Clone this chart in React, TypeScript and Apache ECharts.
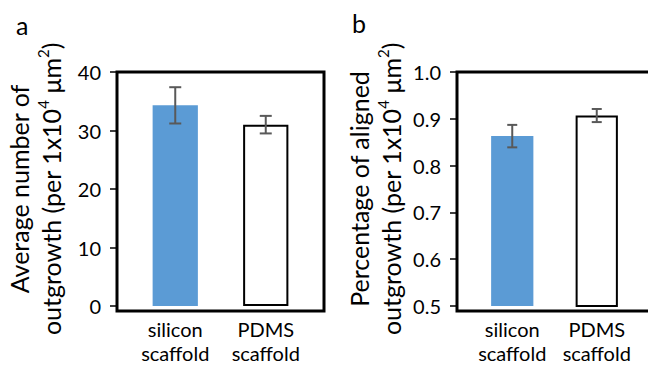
import React, { useEffect, useRef } from "react";
import * as echarts from "echarts";

// ---- data ----
const categories = ["silicon\nscaffold", "PDMS\nscaffold"];
// panel a: average number of outgrowth
const outgrowthMean = [34.3, 31.0];
const outgrowthErr = [3.1, 1.5];
const outgrowthTicks = { min: 0, max: 40, interval: 10 };
// panel b: percentage of aligned outgrowth
const alignedMean = [0.863, 0.907];
const alignedErr = [0.024, 0.014];
const alignedTicks = { min: 0.5, max: 1.0, interval: 0.1 };

const titleA = "{t|Average number of}\n{t|outgrowth (per 1x10}{s|4}{t| μm}{s|2}{t|)}";
const titleB = "{t|Percentage of aligned}\n{t|outgrowth (per 1x10}{s|4}{t| μm}{s|2}{t|)}";

// ---- styles ----
const FONT = "Lato";
const BLUE = "#5B9BD5";
const ERR = "#595959";
const barStyles = [
  { color: BLUE, borderColor: BLUE, borderWidth: 0 },
  { color: "#ffffff", borderColor: "#000000", borderWidth: 2 },
];

const titleRich = {
  t: { fontSize: 25, fontFamily: FONT, lineHeight: 32, color: "#000" },
  s: { fontSize: 15, fontFamily: FONT, lineHeight: 16, verticalAlign: "top", color: "#000" },
};

function errorSeries(means: number[], errs: number[], idx: number, cap: number) {
  return {
    type: "custom",
    xAxisIndex: idx,
    yAxisIndex: idx,
    z: 5,
    data: means.map((m, i) => [i, m - errs[i], m + errs[i]]),
    renderItem: (params: any, api: any) => {
      const x = api.value(0);
      const lo = api.coord([x, api.value(1)]);
      const hi = api.coord([x, api.value(2)]);
      const st = { stroke: ERR, lineWidth: 2 };
      return {
        type: "group",
        children: [
          { type: "line", shape: { x1: lo[0], y1: lo[1], x2: hi[0], y2: hi[1] }, style: st },
          { type: "line", shape: { x1: hi[0] - cap / 2, y1: hi[1], x2: hi[0] + cap / 2, y2: hi[1] }, style: st },
          { type: "line", shape: { x1: lo[0] - cap / 2, y1: lo[1], x2: lo[0] + cap / 2, y2: lo[1] }, style: st },
        ],
      };
    },
  };
}

function yAxisCfg(idx: number, ticks: any, name: string, offset: number, fmt: (v: number) => string) {
  return {
    type: "value",
    gridIndex: idx,
    min: ticks.min,
    max: ticks.max,
    interval: ticks.interval,
    offset,
    axisLine: { show: false },
    axisTick: { show: true, length: 7, lineStyle: { color: "#000", width: 1.5 } },
    splitLine: { show: false },
    axisLabel: { fontSize: 20, fontFamily: FONT, color: "#000", margin: 16, formatter: fmt },
    name,
    nameLocation: "middle",
    nameRotate: 90,
    nameGap: 50,
    nameTextStyle: { rich: titleRich },
  };
}

function xAxisCfg(idx: number) {
  return {
    type: "category",
    gridIndex: idx,
    data: categories,
    axisLine: { show: false },
    axisTick: { show: false },
    axisLabel: { fontSize: 20, fontFamily: FONT, color: "#000", lineHeight: 24, margin: 11, interval: 0 },
  };
}

export default function App() {
  const ref = useRef<HTMLDivElement>(null);
  useEffect(() => {
    if (!ref.current) return;
    const chart = echarts.init(ref.current, null, { renderer: "svg" });
    chart.setOption({
      animation: false,
      backgroundColor: "#ffffff",
      grid: [
        { left: 130, top: 72, width: 181, height: 239 },
        { left: 470, top: 72, width: 169, height: 239 },
      ],
      xAxis: [xAxisCfg(0), xAxisCfg(1)],
      yAxis: [
        yAxisCfg(0, outgrowthTicks, titleA, 13, (v: number) => String(v)),
        yAxisCfg(1, alignedTicks, titleB, 13, (v: number) => v.toFixed(1)),
      ],
      graphic: [
        { type: "rect", z: 100, shape: { x: 117, y: 72, width: 207, height: 239 }, style: { fill: "none", stroke: "#000", lineWidth: 3 } },
        { type: "rect", z: 100, shape: { x: 457, y: 72, width: 195, height: 239 }, style: { fill: "none", stroke: "#000", lineWidth: 3 } },
        { type: "text", left: 16, top: 12, style: { text: "a", fontSize: 25, fontFamily: FONT, fill: "#000" } },
        { type: "text", left: 352, top: 10, style: { text: "b", fontSize: 25, fontFamily: FONT, fill: "#000" } },
      ],
      series: [
        {
          type: "bar",
          xAxisIndex: 0,
          yAxisIndex: 0,
          barWidth: "50%",
          data: outgrowthMean.map((v, i) => ({ value: v, itemStyle: barStyles[i] })),
        },
        {
          type: "bar",
          xAxisIndex: 1,
          yAxisIndex: 1,
          barWidth: "50%",
          data: alignedMean.map((v, i) => ({ value: v, itemStyle: barStyles[i] })),
        },
        errorSeries(outgrowthMean, outgrowthErr, 0, 12),
        errorSeries(alignedMean, alignedErr, 1, 10),
      ],
    });
    return () => chart.dispose();
  }, []);
  return <div ref={ref} style={{ position: "absolute", left: 0, top: 0, width: 648, height: 365 }} />;
}
